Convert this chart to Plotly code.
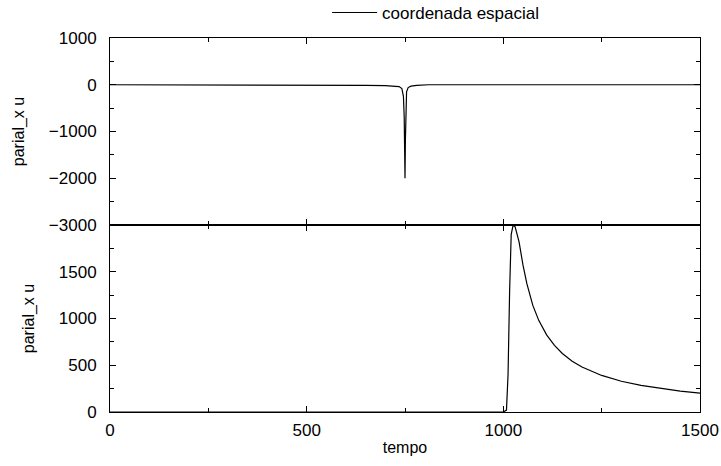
import plotly.graph_objects as go
from plotly.subplots import make_subplots

# top panel: spatial-derivative trace (near zero with a spike at t~750)
t_top = [0, 320, 330, 340, 400, 500, 600, 650, 700, 720, 735, 742, 746, 748, 749, 750, 751, 752, 754, 758, 765, 780, 800, 810, 900, 1000, 1200, 1500]
u_top = [0, 0, -8, -5, -10, -8, -12, -15, -20, -25, -40, -80, -250, -700, -1500, -2000, -1200, -500, -150, -60, -30, -15, -8, 0, 0, 0, 0, 0]

# bottom panel: jump at t~1010, peak ~2000, then slow decay
t_bot = [0, 1000, 1008, 1012, 1016, 1020, 1025, 1030, 1040, 1050, 1060, 1075, 1090, 1110, 1130, 1150, 1175, 1200, 1250, 1300, 1350, 1400, 1450, 1500]
u_bot = [0, 0, 20, 400, 1300, 1900, 2000, 1980, 1820, 1570, 1370, 1140, 980, 825, 712, 626, 544, 481, 391, 329, 284, 250, 223, 201]

legend_label = "coordenada espacial"
x_label = "tempo"
y_label = "parial_x u"

fig = make_subplots(rows=2, cols=1, shared_xaxes=True, vertical_spacing=0)

fig.add_trace(go.Scatter(x=t_top, y=u_top, mode="lines", name=legend_label,
                         line=dict(color="black", width=1.2), showlegend=True), row=1, col=1)
fig.add_trace(go.Scatter(x=t_bot, y=u_bot, mode="lines", name=legend_label,
                         line=dict(color="black", width=1.2), showlegend=False), row=2, col=1)

fam = "Liberation Sans, Arial, sans-serif"
tickfont = dict(family=fam, size=17, color="black")
font = dict(family=fam, size=16, color="black")
axis_common = dict(showline=True, linecolor="black", linewidth=1, mirror="ticks",
                   ticks="inside", ticklen=6, tickcolor="black", showgrid=False,
                   zeroline=False, tickfont=tickfont, automargin=False)

fig.update_xaxes(range=[0, 1500], tickmode="linear", tick0=0, dtick=500, ticklabelstandoff=3,
                 minor=dict(ticks="inside", dtick=250, tick0=0, ticklen=4, tickcolor="black", showgrid=False),
                 **axis_common)
fig.update_xaxes(showticklabels=False, row=1, col=1)
fig.update_xaxes(title=dict(text=x_label, font=font, standoff=2), row=2, col=1)

fig.update_yaxes(range=[-3000, 1000], tickmode="linear", tick0=0, dtick=1000, ticklabelstandoff=9,
                 minor=dict(ticks="inside", dtick=500, tick0=0, ticklen=4, tickcolor="black", showgrid=False),
                 title=dict(text=y_label, font=font, standoff=20), row=1, col=1, **axis_common)
fig.update_yaxes(range=[0, 2000], tickmode="array", tickvals=[0, 500, 1000, 1500, 2000],
                 ticktext=["0", "500", "1000", "1500", ""], ticklabelstandoff=9,
                 minor=dict(ticks="inside", tickmode="linear", dtick=250, tick0=0, ticklen=4, tickcolor="black", showgrid=False),
                 title=dict(text=y_label, font=font, standoff=20), row=2, col=1, **axis_common)

fig.update_layout(
    width=721, height=466,
    margin=dict(l=110, r=21, t=38, b=54, autoexpand=False),
    paper_bgcolor="white", plot_bgcolor="white",
    font=font,
    legend=dict(x=0.368, y=1.067, xanchor="left", yanchor="middle",
                bgcolor="rgba(0,0,0,0)", itemwidth=45, font=dict(family=fam, size=17, color="black")),
)

fig.write_html("out.html", config={"displayModeBar": False},
               post_script="document.body.style.margin='0';document.body.style.overflow='hidden';")
